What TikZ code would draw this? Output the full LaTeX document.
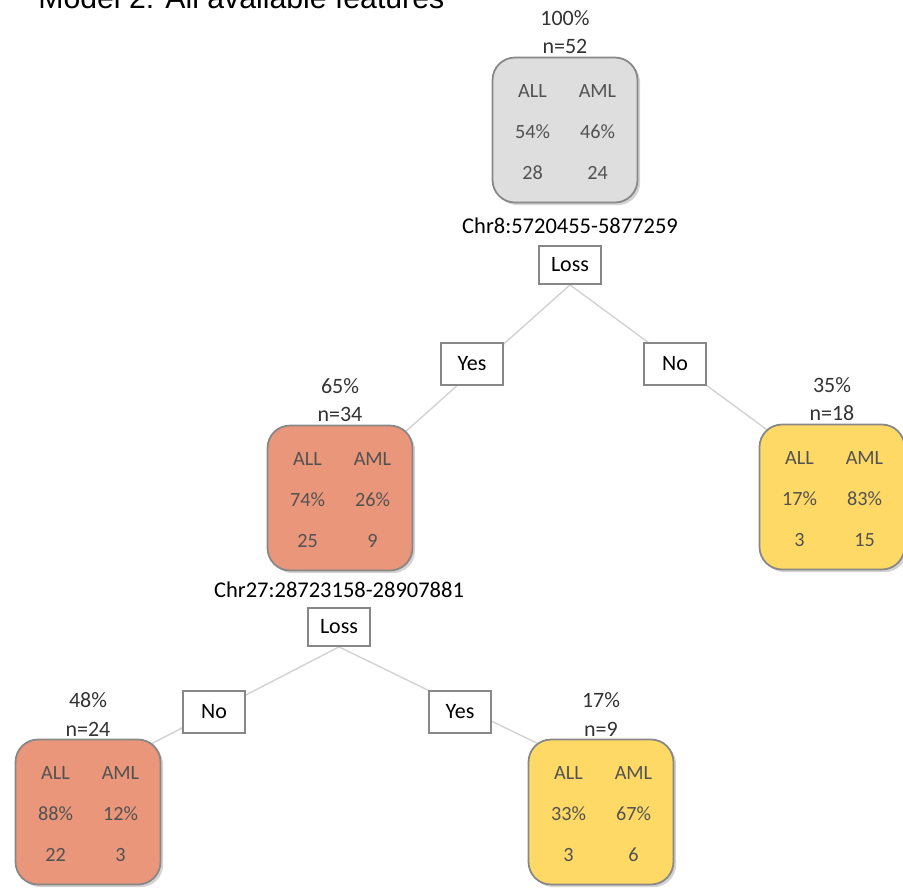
\documentclass[tikz,border=0pt]{standalone}
\usepackage{fontspec}
\setmainfont{Carlito}
\newfontfamily\headfont{Liberation Sans}
\usepackage{array}
\usepackage{tikz}
\usetikzlibrary{positioning,shadows,backgrounds}
\definecolor{boxgray}{RGB}{222,222,222}
\definecolor{salmon}{RGB}{233,150,122}
\definecolor{gold}{RGB}{255,217,102}
\definecolor{edgegray}{RGB}{135,135,135}
\definecolor{linegray}{RGB}{210,210,210}
\definecolor{txt}{RGB}{51,51,51}
\newcommand{\counts}[4]{{\fontsize{11.5}{14}\selectfont\renewcommand{\arraystretch}{1.66}%
\begin{tabular}{@{}wc{1.3cm}@{}wc{1.3cm}@{}}ALL & AML\\ #1\% & #2\%\\ #3 & #4\end{tabular}}}

\begin{document}
\begin{tikzpicture}[x=0.02cm, y=-0.02cm,
  leaf/.style={draw=edgegray, line width=1pt, rounded corners=0.45cm, minimum width=2.9cm,
    minimum height=2.9cm, inner sep=0pt, text=txt!85,
    drop shadow={shadow xshift=1.5pt, shadow yshift=-1.5pt, opacity=0.35}},
  split/.style={draw=edgegray, fill=white, line width=1pt, minimum width=1.24cm,
    minimum height=0.76cm, inner sep=1pt, text=black, font=\fontsize{12.5}{15}\selectfont},
  answer/.style={split, minimum height=0.83cm},
  info/.style={align=center, inner sep=0pt, text=txt, font=\fontsize{12.5}{16.4}\selectfont},
  cond/.style={inner sep=0pt, text=black, font=\fontsize{12.8}{15}\selectfont},
  branch/.style={draw=linegray, line width=0.8pt, shorten >=-0.3cm}]
\useasboundingbox (0,0) rectangle (903,887);
\node[anchor=base west, inner sep=0pt, font=\headfont\fontsize{17.2}{20}\selectfont] (title) at (38,8) {Model 2: All available features};

% root
\node[leaf, fill=boxgray] (root) at (565,130) {\counts{54}{46}{28}{24}};
\node[info, above=1.3pt of root] (rootinfo) {100\%\\n=52};
\node[split] (loss1) at (570,265) {Loss};
\node[cond, above=6.3pt of loss1] (cond1) {Chr8:5720455-5877259};
\node[answer] (yes1) at (472,364) {Yes};
\node[answer] (no1) at (675,364) {No};

% first level
\node[leaf, fill=salmon] (left) at (340,498) {\counts{74}{26}{25}{9}};
\node[info, above=1.3pt of left] (leftinfo) {65\%\\n=34};
\node[leaf, fill=gold] (right) at (832,497) {\counts{17}{83}{3}{15}};
\node[info, above=1.3pt of right] (rightinfo) {35\%\\n=18};
\node[split] (loss2) at (339,627) {Loss};
\node[cond, above=5pt of loss2] (cond2) {Chr27:28723158-28907881};
\node[answer] (no2) at (214,712) {No};
\node[answer] (yes2) at (460,712) {Yes};

% second level
\node[leaf, fill=salmon] (leftleft) at (88,812) {\counts{88}{12}{22}{3}};
\node[info, above=1.3pt of leftleft] (leftleftinfo) {48\%\\n=24};
\node[leaf, fill=gold] (leftright) at (601,812) {\counts{33}{67}{3}{6}};
\node[info, above=1.3pt of leftright] (leftrightinfo) {17\%\\n=9};

\begin{scope}[on background layer]
\draw[branch] (loss1.south) -- (left.north east);
\draw[branch] (loss1.south) -- (right.north west);
\draw[branch] (loss2.south) -- (leftleft.north east);
\draw[branch] (loss2.south) -- (leftright.north west);
\end{scope}
\end{tikzpicture}
\end{document}
